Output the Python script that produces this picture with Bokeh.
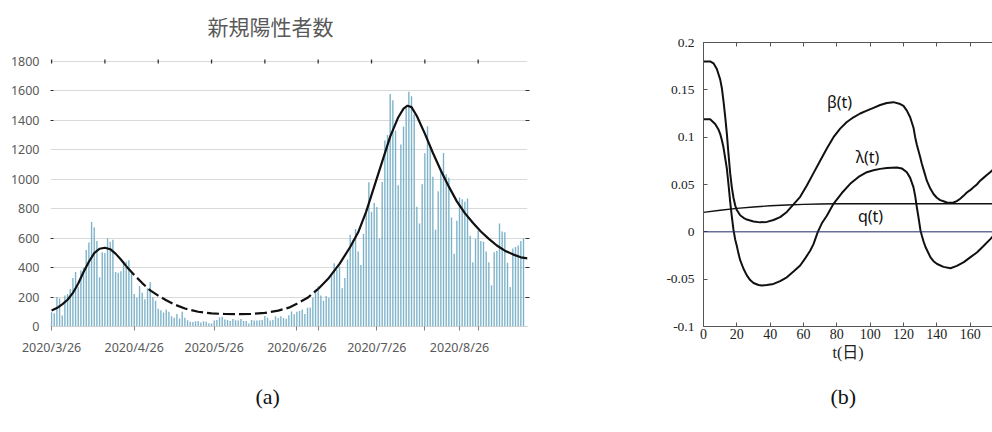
import math
from bokeh.plotting import figure
from bokeh.layouts import row
from bokeh.models import FixedTicker, LinearAxis, Label, Span, Range1d, Title
from bokeh.embed import file_html
from bokeh.resources import INLINE

# ---------------- (a) data ----------------
a_title = "新規陽性者数"
a_panel = "(a)"
# daily new positives, 2020/3/26 .. 2020/9/19 (day index 0..177)
cases_mar = [96, 90, 200, 190, 75, 210]
cases_apr = [220, 255, 330, 370, 270, 380, 400, 520, 570, 710, 675, 580, 335, 505, 500,
             600, 575, 590, 370, 365, 375, 445, 440, 450, 360, 220, 195, 275, 230, 185]
cases_may = [260, 300, 200, 175, 120, 110, 95, 115, 100, 70, 60, 85, 55, 100, 60, 42,
             33, 30, 35, 38, 28, 36, 33, 22, 21, 40, 44, 62, 66, 47, 44]
cases_jun = [37, 51, 43, 41, 51, 37, 37, 20, 45, 41, 40, 42, 45, 72, 59, 41, 44, 69,
             58, 70, 57, 52, 77, 102, 84, 100, 106, 116, 85, 128]
cases_jul = [129, 196, 250, 273, 211, 175, 207, 193, 355, 430, 385, 407, 259, 329, 455,
             623, 590, 663, 509, 418, 630, 795, 979, 779, 839, 812, 597, 981, 1264, 1301, 1579]
cases_aug = [1537, 1331, 959, 1237, 1358, 1485, 1595, 1564, 1442, 813, 700, 967, 1177,
             1361, 1227, 1018, 657, 918, 1072, 1179, 1034, 1011, 740, 495, 718, 876, 865,
             848, 869, 616, 437]
cases_sep = [594, 650, 580, 575, 510, 437, 280, 505, 512, 700, 645, 640, 433, 269, 530,
             540, 550, 580, 600]
new_cases = cases_mar + cases_apr + cases_may + cases_jun + cases_jul + cases_aug + cases_sep
bar_days = list(range(len(new_cases)))

curve_days = [0, 2, 4, 6, 8, 10, 12, 14, 16, 18, 20, 22, 24, 26, 28, 31, 34, 37, 40, 43,
              46, 50, 55, 60, 65, 70, 75, 80, 85, 89, 92, 96, 100, 104, 108, 112, 115,
              118, 121, 124, 127, 130, 132, 133.5, 135, 137, 140, 143, 146, 149, 152,
              155, 158, 161, 164, 167, 170, 173, 176, 178.5]
curve_vals = [108, 125, 150, 182, 228, 292, 370, 440, 498, 528, 535, 525, 495, 455, 410,
              350, 295, 245, 210, 178, 150, 122, 100, 89, 85, 84, 85, 92, 108, 128, 155,
              195, 255, 330, 425, 540, 640, 780, 950, 1120, 1290, 1420, 1480, 1500, 1490,
              1430, 1310, 1180, 1060, 950, 850, 770, 705, 645, 595, 550, 515, 490, 470, 463]
dash_from_day = 28
dash_to_day = 100

a_xtick_pos = [0, 31, 61, 92, 122, 153]
a_xtick_labels = ["2020/3/26", "2020/4/26", "2020/5/26", "2020/6/26", "2020/7/26", "2020/8/26"]
a_yticks = [0, 200, 400, 600, 800, 1000, 1200, 1400, 1600, 1800]
a_side_marks = [200, 400, 600, 1400, 1600]
a_top_marks = [0, 20, 40, 60, 80, 100, 120, 140, 160]
a_bottom_marks = [100, 140, 160]

# ---------------- (b) data ----------------
b_panel = "(b)"
b_xlabel = "t(日)"
t_beta = [0, 4, 6, 8, 10, 11, 12, 13, 14, 15, 16, 17, 18, 19, 20, 22, 24, 26, 30, 34, 38,
          42, 46, 50, 54, 58, 62, 66, 70, 74, 78, 82, 86, 90, 94, 98, 102, 106, 110, 114,
          118, 120, 122, 124, 126, 127, 128, 130, 131, 132, 134, 136, 138, 140, 142, 144,
          146, 148, 150, 152, 154, 156, 158, 160, 162, 164, 166, 168, 170, 172, 174]
beta = [0.180, 0.180, 0.178, 0.172, 0.161, 0.152, 0.138, 0.122, 0.104, 0.082, 0.062, 0.047,
        0.036, 0.028, 0.023, 0.0175, 0.0148, 0.013, 0.011, 0.0100, 0.0105, 0.0125, 0.0155,
        0.021, 0.029, 0.037, 0.049, 0.062, 0.075, 0.088, 0.100, 0.109, 0.116, 0.121, 0.125,
        0.128, 0.131, 0.134, 0.136, 0.137, 0.135, 0.133, 0.128, 0.121, 0.110, 0.100, 0.092,
        0.079, 0.072, 0.066, 0.054, 0.046, 0.040, 0.036, 0.0335, 0.0323, 0.031, 0.0306,
        0.031, 0.0325, 0.035, 0.038, 0.0415, 0.044, 0.047, 0.050, 0.054, 0.057, 0.060,
        0.063, 0.066]
t_lambda = [0, 4, 7, 9, 10, 11, 12, 13, 14, 15, 16, 17, 18, 19, 20, 21, 22, 24, 26, 28, 30,
            33, 35, 38, 42, 46, 50, 54, 58, 61, 64, 66, 68.6, 71, 74, 78, 83, 88, 93, 98,
            102, 106, 110, 116, 119, 122, 124, 126, 127, 128, 129.2, 130.2, 131, 132, 133.2,
            136.2, 138, 140.2, 144, 148.2, 152, 156.2, 160, 164.2, 168, 172.2, 174]
lam = [0.119, 0.119, 0.114, 0.108, 0.1035, 0.097, 0.089, 0.078, 0.067, 0.050, 0.032, 0.016,
       0.002, -0.008, -0.015, -0.023, -0.030, -0.039, -0.046, -0.051, -0.054, -0.0562,
       -0.0567, -0.0562, -0.055, -0.052, -0.048, -0.042, -0.0356, -0.028, -0.020, -0.013,
       0.000, 0.009, 0.017, 0.0296, 0.041, 0.0507, 0.058, 0.063, 0.065, 0.0665, 0.0675,
       0.068, 0.067, 0.063, 0.057, 0.047, 0.038, 0.026, 0.013, 0.0014, -0.004, -0.010,
       -0.016, -0.027, -0.031, -0.034, -0.037, -0.0384, -0.036, -0.032, -0.027, -0.0215,
       -0.015, -0.0074, -0.004]
t_q = [0, 10, 20, 30, 40, 50, 60, 70, 80, 100, 174]
q_vals = [0.0205, 0.0228, 0.0248, 0.0263, 0.0275, 0.0284, 0.0290, 0.0294, 0.0296, 0.0297, 0.0297]
curve_names = ["β(t)", "λ(t)", "q(t)"]
b_xticks = [0, 20, 40, 60, 80, 100, 120, 140, 160]
b_yticks = [-0.1, -0.05, 0, 0.05, 0.1, 0.15, 0.2]
b_ytick_labels = ["-0.1", "-0.05", "0", "0.05", "0.1", "0.15", "0.2"]

GRAY_TXT = "#595959"
SANS = "Noto Sans"
SERIF = "'Liberation Serif', 'Noto Sans CJK JP'"

TOP, BOTTOM = 42, 106          # shared frame borders of both panels (px)
H = 432

# ================= panel (a) =================
a_frame_h = H - TOP - BOTTOM
a_ytop = a_yticks[-1] * a_frame_h / (a_frame_h - 19)   # 1800 line sits 19px below frame top
pa = figure(width=600, height=H, x_range=Range1d(-0.4, 178.5), y_range=Range1d(0, a_ytop),
            output_backend="svg", toolbar_location=None, title=None,
            min_border_left=50, min_border_right=73, min_border_top=TOP, min_border_bottom=BOTTOM)
pa.outline_line_color = None
pa.xgrid.visible = False
pa.ygrid.grid_line_color = "#d9d9d9"
pa.ygrid.grid_line_width = 1

pa.vbar(x=bar_days, top=new_cases, bottom=0, width=0.52, fill_color="#7db3ca", line_color=None)

solid1 = [(d, v) for d, v in zip(curve_days, curve_vals) if d <= dash_from_day]
dashed = [(d, v) for d, v in zip(curve_days, curve_vals) if dash_from_day <= d <= dash_to_day]
solid2 = [(d, v) for d, v in zip(curve_days, curve_vals) if d >= dash_to_day]
for seg, dash in ((solid1, "solid"), (dashed, "12 4"), (solid2, "solid")):
    pa.line([s[0] for s in seg], [s[1] for s in seg], line_color="#111111",
            line_width=2.2, line_dash=dash)

# small tick marks along the top (1800) line
pa.scatter(x=a_top_marks, y=[a_yticks[-1]] * len(a_top_marks), marker="dash",
           angle=math.pi / 2, size=4, line_color="#333333", line_width=1.3)

ya = pa.yaxis[0]
ya.ticker = FixedTicker(ticks=a_yticks, minor_ticks=a_side_marks)
ya.axis_line_color = None
ya.major_tick_line_color = None
ya.minor_tick_line_color = "#333333"
ya.minor_tick_in = 3
ya.minor_tick_out = 0
ya.major_label_standoff = 5
ya.major_label_text_font = SANS
ya.major_label_text_font_size = "12.5px"
ya.major_label_text_color = GRAY_TXT

xa = pa.xaxis[0]
xa.ticker = FixedTicker(ticks=a_xtick_pos, minor_ticks=a_bottom_marks)
xa.major_label_overrides = {p: l for p, l in zip(a_xtick_pos, a_xtick_labels)}
xa.axis_line_color = "#d0d0d0"
xa.major_tick_line_color = "#7f7f7f"
xa.major_tick_in = 0
xa.major_tick_out = 4
xa.minor_tick_line_color = "#7f7f7f"
xa.minor_tick_in = 0
xa.minor_tick_out = 4
xa.major_label_standoff = 8
xa.major_label_text_font = SANS
xa.major_label_text_font_size = "12.5px"
xa.major_label_text_color = GRAY_TXT

right_a = LinearAxis(ticker=FixedTicker(ticks=[], minor_ticks=a_side_marks),
                     axis_line_color=None, minor_tick_line_color="#333333",
                     minor_tick_in=2, minor_tick_out=2, major_tick_line_color=None)
pa.add_layout(right_a, "right")

pa.add_layout(Title(text=a_title, align="left", offset=157, standoff=4,
                    text_font="Noto Sans CJK JP", text_font_size="21px",
                    text_font_style="normal", text_color=GRAY_TXT), "above")
pa.add_layout(Title(text=a_panel, align="left", offset=205, standoff=46,
                    text_font="Liberation Serif", text_font_size="22px",
                    text_font_style="normal", text_color="#111111"), "below")

# ================= panel (b) =================
pb = figure(width=392, height=H, x_range=Range1d(0, 173.4), y_range=Range1d(-0.1, 0.2),
            output_backend="svg", toolbar_location=None, title=None,
            min_border_left=103, min_border_right=0, min_border_top=TOP, min_border_bottom=BOTTOM)
pb.outline_line_color = None
pb.grid.visible = False

pb.add_layout(Span(location=0, dimension="width", line_color="#1f2766", line_width=1))
pb.line(t_q, q_vals, line_color="#111111", line_width=1.4)
pb.line(t_beta, beta, line_color="#111111", line_width=2)
pb.line(t_lambda, lam, line_color="#111111", line_width=2)

xb = pb.xaxis[0]
xb.ticker = FixedTicker(ticks=b_xticks)
xb.axis_line_color = "#555555"
xb.major_tick_line_color = "#555555"
xb.major_tick_in = 4
xb.major_tick_out = 0
xb.minor_tick_line_color = None
xb.major_label_standoff = 2
xb.major_label_text_font = SERIF
xb.major_label_text_font_size = "14px"
xb.major_label_text_color = "#222222"
xb.axis_label = b_xlabel
xb.axis_label_text_font = SERIF
xb.axis_label_text_font_size = "16px"
xb.axis_label_text_font_style = "normal"
xb.axis_label_text_color = "#222222"
xb.axis_label_standoff = 2

yb = pb.yaxis[0]
yb.ticker = FixedTicker(ticks=b_yticks)
yb.major_label_overrides = {v: l for v, l in zip(b_yticks, b_ytick_labels)}
yb.axis_line_color = "#555555"
yb.major_tick_line_color = "#555555"
yb.major_tick_in = 4
yb.major_tick_out = 0
yb.minor_tick_line_color = None
yb.major_label_standoff = 9
yb.major_label_text_font = SERIF
yb.major_label_text_font_size = "13.5px"
yb.major_label_text_color = "#222222"

top_b = LinearAxis(ticker=FixedTicker(ticks=[], minor_ticks=b_xticks), axis_line_color="#555555",
                   minor_tick_line_color="#555555", minor_tick_in=4, minor_tick_out=0,
                   major_tick_line_color=None)
pb.add_layout(top_b, "above")

for name, (lx, ly) in zip(curve_names, [(81.6, 0.1376), (98.4, 0.0790), (100.2, 0.0172)]):
    pb.add_layout(Label(x=lx, y=ly, text=name, text_align="center", text_baseline="middle",
                        text_font=SANS, text_font_size="16px", text_color="#111111"))
pb.add_layout(Title(text=b_panel, align="left", offset=127, standoff=37,
                    text_font="Liberation Serif", text_font_size="22px",
                    text_font_style="normal", text_color="#111111"), "below")

layout = row(pa, pb, spacing=0)
open("out.html", "w").write(file_html(layout, INLINE))
